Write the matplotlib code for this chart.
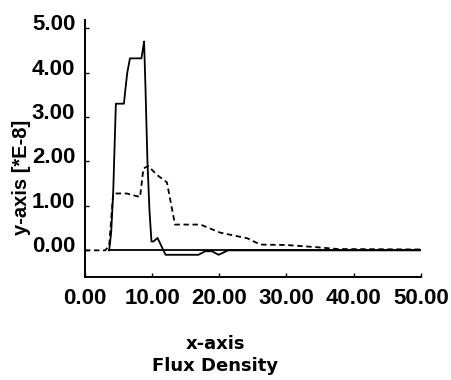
#!/usr/bin/env python3
"""
Flux density plot
"""

import matplotlib.pyplot as plt
import matplotlib.transforms as mtransforms

# solid curve
solid_x = [3.6, 3.9, 4.2, 4.6, 5.8, 6.0, 6.3, 6.7, 8.4, 8.6, 8.8, 9.0, 9.3,
           9.6, 9.9, 10.2, 10.8, 11.3, 12.0, 16.9, 17.9, 18.9, 19.9, 21.3, 30.0, 40.0, 50.0]
solid_y = [0.0, 0.4, 1.3, 3.3, 3.3, 3.6, 4.0, 4.32, 4.32, 4.5, 4.7, 3.7, 2.0,
           0.9, 0.2, 0.2, 0.28, 0.12, -0.1, -0.1, -0.02, -0.02, -0.1, 0.0, 0.0, 0.0, 0.0]

# zero baseline drawn under the solid curve
baseline_x = [3.6, 50.0]
baseline_y = [0.0, 0.0]

# dashed curve
dash_x = [0.0, 3.0, 3.6, 4.2, 6.2, 8.2, 8.7, 9.4, 10.7, 12.2, 13.4, 17.2, 20.1,
          24.2, 26.1, 30.0, 34.6, 37.6, 50.0]
dash_y = [0.0, 0.0, 0.1, 1.28, 1.28, 1.2, 1.84, 1.9, 1.7, 1.53, 0.58, 0.58, 0.4,
          0.27, 0.13, 0.12, 0.07, 0.03, 0.02]

xticks = [0, 10, 20, 30, 40, 50]
yticks = [0, 1, 2, 3, 4, 5]

plt.rcParams["font.family"] = ["Liberation Sans", "DejaVu Sans"]

fig = plt.figure(figsize=(4.52, 3.8), dpi=100)
ax = fig.add_axes([0.188, 0.271, 0.743, 0.676])

ax.plot(baseline_x, baseline_y, color="black", linewidth=1.3)
ax.plot(solid_x, solid_y, color="black", linewidth=1.3)
ax.plot(dash_x, dash_y, color="black", linewidth=1.3, linestyle=(0, (3, 2)))

ax.set_xlim(0, 50)
ax.set_ylim(-0.6, 5.18)
ax.set_xticks(xticks)
ax.set_xticklabels([f"{v:.2f}" for v in xticks])
ax.set_yticks(yticks)
ax.set_yticklabels([f"{v:.2f}" for v in yticks])

for side in ["top", "right"]:
    ax.spines[side].set_visible(False)
for side in ["left", "bottom"]:
    ax.spines[side].set_linewidth(1.4)

ax.tick_params(direction="in", length=3, width=1, labelsize=16)
ax.tick_params(axis="x", pad=8)
ax.tick_params(axis="y", pad=7)
# y tick labels sit a little above their ticks
shift = mtransforms.ScaledTranslation(0, 0.06, fig.dpi_scale_trans)
for lab in ax.get_yticklabels():
    lab.set_transform(lab.get_transform() + shift)
for lab in ax.get_xticklabels() + ax.get_yticklabels():
    lab.set_fontweight("bold")

fig.text(22 / 452, 1 - 177 / 380, "y-axis [*E-8]", rotation=90, fontsize=14.5,
         fontweight="bold", ha="center", va="center")
fig.text(215 / 452, 1 - 355 / 380, "x-axis\nFlux Density", fontsize=13,
         fontweight="bold", ha="center", va="center", multialignment="center",
         linespacing=1.25, family=["DejaVu Sans"])

fig.savefig("out.png", dpi=100, facecolor="white")
